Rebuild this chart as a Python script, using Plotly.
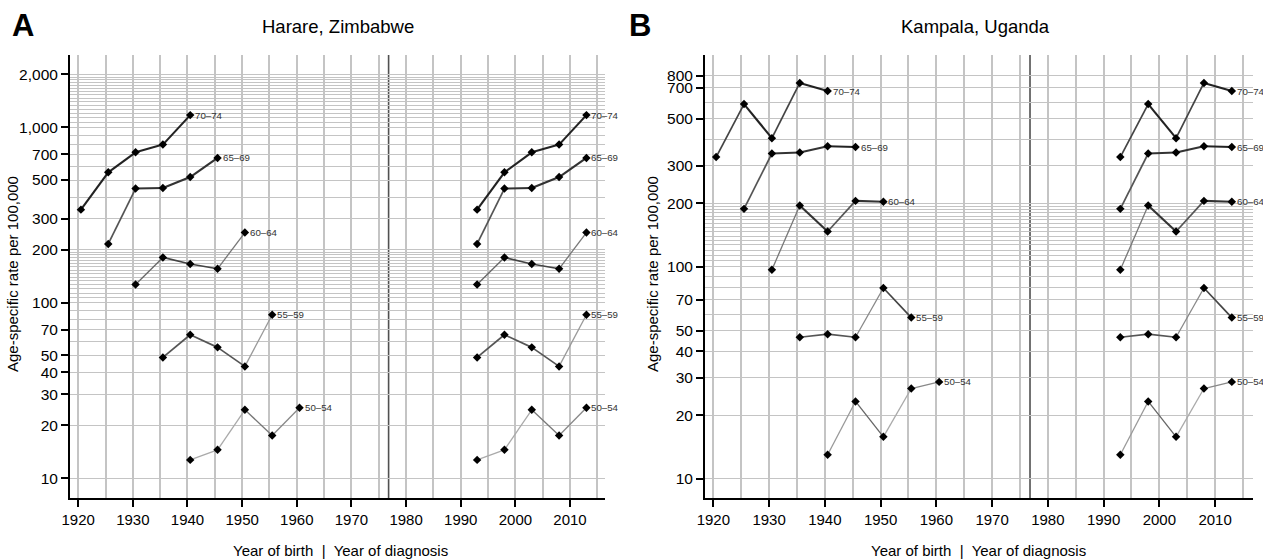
import math
import plotly.graph_objects as go

# ---------------- data ----------------
age_groups = ["50–54", "55–59", "60–64", "65–69", "70–74"]
age_lower = [50, 55, 60, 65, 70]
period_years = [1993, 1998, 2003, 2008, 2013]

harare_50_54 = [12.7, 14.5, 24.5, 17.5, 25.2]
harare_55_59 = [48.7, 65.6, 55.6, 43.3, 85.3]
harare_60_64 = [127, 181, 166, 156, 251]
harare_65_69 = [216, 447, 450, 520, 668]
harare_70_74 = [339, 553, 719, 796, 1172]

kampala_50_54 = [13.0, 23.2, 15.8, 26.7, 28.7]
kampala_55_59 = [46.6, 48.2, 46.6, 79.6, 57.7]
kampala_60_64 = [97, 195, 147, 205, 203]
kampala_65_69 = [188, 343, 347, 371, 368]
kampala_70_74 = [330, 587, 405, 738, 676]

harare_ticks = [10, 20, 30, 40, 50, 70, 100, 200, 300, 500, 700, 1000, 2000]
harare_ticktext = ["10", "20", "30", "40", "50", "70", "100", "200", "300", "500", "700", "1,000", "2,000"]
kampala_ticks = [10, 20, 30, 40, 50, 70, 100, 200, 300, 500, 700, 800]
kampala_ticktext = ["10", "20", "30", "40", "50", "70", "100", "200", "300", "500", "700", "800"]
year_ticks = [1920, 1930, 1940, 1950, 1960, 1970, 1980, 1990, 2000, 2010]
divider_year = 1976.8

# extra horizontal grid lines
band_100_200 = [107, 113, 120, 127, 133, 140, 147, 153, 160, 167, 173, 180, 187, 193]
band_1000_2000 = [1067, 1133, 1200, 1267, 1333, 1400, 1467, 1533, 1600, 1667, 1733, 1800, 1867, 1933]
harare_minor = [60, 80, 90] + band_100_200 + [400, 600, 800, 900] + band_1000_2000
kampala_minor = [60, 80, 90] + band_100_200 + [400, 600]

# ---------------- style ----------------
harare_shades = [
    ["#aaaaaa", "#aaaaaa", "#777777", "#888888"],
    ["#555555", "#555555", "#555555", "#999999"],
    ["#666666", "#444444", "#444444", "#777777"],
    ["#555555", "#333333", "#333333", "#333333"],
    ["#222222", "#222222", "#222222", "#222222"],
]
kampala_shades = [
    ["#999999", "#666666", "#aaaaaa", "#888888"],
    ["#555555", "#555555", "#888888", "#444444"],
    ["#777777", "#333333", "#555555", "#333333"],
    ["#555555", "#333333", "#333333", "#222222"],
    ["#444444", "#222222", "#444444", "#222222"],
]

FONT = "Liberation Sans, Arial, Helvetica, sans-serif"
W, H = 1263, 559
GRID = "#c4c4c4"


def width_for(shade):
    v = int(shade[1:3], 16)
    return 2.1 if v <= 0x40 else (1.7 if v <= 0x60 else 1.3)


fig = go.Figure()

panels = [
    ("x", "y", [harare_50_54, harare_55_59, harare_60_64, harare_65_69, harare_70_74], harare_shades),
    ("x2", "y2", [kampala_50_54, kampala_55_59, kampala_60_64, kampala_65_69, kampala_70_74], kampala_shades),
]

annotations = []
for xa, ya, series, shades in panels:
    for gi, (label, low, vals) in enumerate(zip(age_groups, age_lower, series)):
        cohort_x = [p - (low + 2.5) for p in period_years]
        for xs in (cohort_x, period_years):
            for s in range(len(vals) - 1):
                fig.add_trace(go.Scatter(
                    x=xs[s:s + 2], y=vals[s:s + 2], mode="lines",
                    line=dict(color=shades[gi][s], width=width_for(shades[gi][s])),
                    xaxis=xa, yaxis=ya, showlegend=False, hoverinfo="skip"))
            fig.add_trace(go.Scatter(
                x=xs, y=vals, mode="markers",
                marker=dict(color="black", size=6.5, symbol="diamond"),
                xaxis=xa, yaxis=ya, showlegend=False))
            annotations.append(dict(
                x=xs[-1], y=math.log10(vals[-1]), xref=xa, yref=ya,
                text=label, showarrow=False, xanchor="left", yanchor="middle",
                xshift=3, font=dict(size=9.7, color="#333333", family=FONT)))

yb, yt = 1 - 498 / H, 1 - 55 / H
dA = [70 / W, 605 / W]
dB = [705 / W, 1253 / W]


def xaxis_cfg(domain, anchor, rng):
    return dict(
        domain=domain, anchor=anchor, range=rng, tickmode="array", tickvals=year_ticks,
        automargin=False,
        ticks="outside", ticklen=7, tickwidth=1.5, tickcolor="black",
        showline=True, linewidth=2, linecolor="black", zeroline=False,
        showgrid=True, gridcolor=GRID, gridwidth=1.5,
        minor=dict(tickmode="array", tickvals=list(range(1925, 2020, 10)),
                   showgrid=True, gridcolor=GRID, gridwidth=1.5),
        tickfont=dict(size=15, color="black", family=FONT),
    )


def yaxis_cfg(anchor, rng, tv, tt, minor):
    return dict(
        domain=[yb, yt], anchor=anchor, type="log", range=rng,
        automargin=False,
        tickmode="array", tickvals=tv, ticktext=tt,
        ticks="outside", ticklen=7, tickwidth=1.5, tickcolor="black",
        showline=True, linewidth=2, linecolor="black", zeroline=False,
        showgrid=True, gridcolor=GRID, gridwidth=1.3,
        minor=dict(tickmode="array", tickvals=minor, showgrid=True,
                   gridcolor=GRID, gridwidth=1.2),
        tickfont=dict(size=15.5, color="black", family=FONT),
    )


fig.update_layout(
    width=W, height=H, autosize=False,
    margin=dict(l=0, r=0, t=0, b=0, pad=0, autoexpand=False),
    paper_bgcolor="white", plot_bgcolor="white",
    font=dict(family=FONT, color="black"),
    showlegend=False,
    xaxis=xaxis_cfg(dA, "y", [1918.5, 2016.4]),
    xaxis2=xaxis_cfg(dB, "y2", [1918.5, 2016.8]),
    yaxis=yaxis_cfg("x", [math.log10(7.7), math.log10(2580)], harare_ticks, harare_ticktext, harare_minor),
    yaxis2=yaxis_cfg("x2", [math.log10(8.13), math.log10(1000)], kampala_ticks, kampala_ticktext, kampala_minor),
)

# dark divider between birth cohort and diagnosis period
for xa, ya in (("x", "y"), ("x2", "y2")):
    fig.add_shape(type="line", x0=divider_year, x1=divider_year, y0=0, y1=1,
                  xref=xa, yref=ya + " domain", layer="below",
                  line=dict(color="#505050", width=1.6))

# titles and labels
annotations += [
    dict(x=10 / W, y=1 - 26 / H, xref="paper", yref="paper", text="<b>A</b>", showarrow=False,
         xanchor="left", yanchor="middle", font=dict(size=31, family=FONT)),
    dict(x=627 / W, y=1 - 26 / H, xref="paper", yref="paper", text="<b>B</b>", showarrow=False,
         xanchor="left", yanchor="middle", font=dict(size=31, family=FONT)),
    dict(x=338 / W, y=1 - 27 / H, xref="paper", yref="paper", text="Harare, Zimbabwe", showarrow=False,
         xanchor="center", yanchor="middle", font=dict(size=18.5, family=FONT)),
    dict(x=976 / W, y=1 - 27 / H, xref="paper", yref="paper", text="Kampala, Uganda", showarrow=False,
         xanchor="center", yanchor="middle", font=dict(size=18.5, family=FONT)),
    dict(x=12 / W, y=1 - 274 / H, xref="paper", yref="paper", text="Age-specific rate per 100,000",
         showarrow=False, textangle=-90, xanchor="center", yanchor="middle",
         font=dict(size=15, family=FONT)),
    dict(x=652 / W, y=1 - 274 / H, xref="paper", yref="paper", text="Age-specific rate per 100,000",
         showarrow=False, textangle=-90, xanchor="center", yanchor="middle",
         font=dict(size=15, family=FONT)),
    dict(x=340 / W, y=1 - 550 / H, xref="paper", yref="paper", text="Year of birth  |  Year of diagnosis",
         showarrow=False, xanchor="center", yanchor="middle", font=dict(size=15, family=FONT)),
    dict(x=979 / W, y=1 - 550 / H, xref="paper", yref="paper", text="Year of birth  |  Year of diagnosis",
         showarrow=False, xanchor="center", yanchor="middle", font=dict(size=15, family=FONT)),
]
fig.update_layout(annotations=annotations)

fig.write_html("out.html")
